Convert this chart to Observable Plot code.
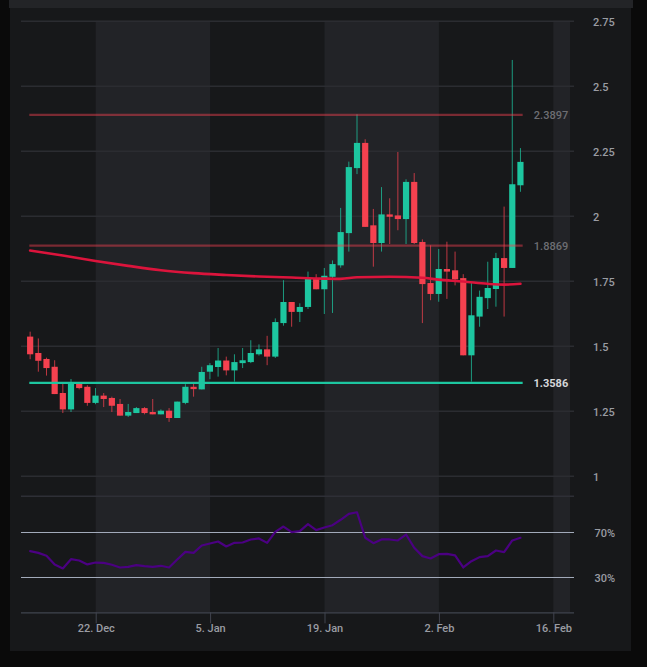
<!DOCTYPE html>
<html><head><meta charset="utf-8">
<script src="https://cdn.jsdelivr.net/npm/d3@7"></script>
<script src="https://cdn.jsdelivr.net/npm/@observablehq/plot@0.6"></script>
<style>
html,body{margin:0;padding:0;background:#0a0a0a;width:647px;height:667px;overflow:hidden}
#strip{position:absolute;left:9px;top:0;width:624px;height:8px;background:#232427}
#panel{position:absolute;left:9.5px;top:8px;width:621.5px;height:643px;background:#17181a}
#price,#rsi{position:absolute;left:0}
#price{top:0}#rsi{top:486px}
svg{display:block}
</style></head><body>
<div id="strip"></div><div id="panel"></div>
<div id="price"></div><div id="rsi"></div>
<script>
const open=[1.535,1.472,1.449,1.419,1.318,1.255,1.353,1.342,1.280,1.308,1.299,1.276,1.231,1.241,1.260,1.245,1.236,1.250,1.222,1.280,1.342,1.332,1.400,1.418,1.443,1.405,1.433,1.437,1.467,1.486,1.458,1.587,1.668,1.630,1.649,1.757,1.717,1.765,1.809,1.933,2.183,2.280,1.963,1.895,2.005,2.001,1.987,2.130,1.899,1.741,1.699,1.795,1.790,1.760,1.463,1.612,1.683,1.718,1.837,1.799,2.117];
const high=[1.554,1.528,1.454,1.444,1.355,1.372,1.355,1.348,1.337,1.318,1.304,1.295,1.276,1.264,1.264,1.295,1.255,1.260,1.285,1.352,1.355,1.419,1.433,1.491,1.458,1.467,1.491,1.521,1.505,1.538,1.605,1.752,1.668,1.663,1.785,1.775,1.799,1.828,2.030,2.208,2.390,2.294,2.026,2.110,2.067,2.245,2.140,2.164,1.909,1.886,1.872,1.900,1.862,1.775,1.741,1.712,1.823,1.857,2.035,2.599,2.260];
const low=[1.448,1.400,1.385,1.314,1.241,1.245,1.332,1.269,1.275,1.264,1.245,1.231,1.226,1.241,1.236,1.236,1.236,1.207,1.222,1.275,1.304,1.332,1.371,1.381,1.386,1.362,1.414,1.433,1.462,1.425,1.453,1.577,1.573,1.591,1.641,1.717,1.622,1.626,1.800,1.862,2.160,1.957,1.804,1.862,1.891,1.944,1.891,1.891,1.587,1.675,1.669,1.680,1.732,1.463,1.362,1.573,1.641,1.650,1.612,1.799,2.092];
const close=[1.467,1.442,1.414,1.314,1.255,1.360,1.337,1.280,1.308,1.295,1.269,1.231,1.245,1.260,1.241,1.236,1.250,1.222,1.285,1.342,1.333,1.399,1.425,1.443,1.405,1.437,1.444,1.472,1.486,1.458,1.591,1.668,1.630,1.649,1.757,1.717,1.769,1.814,1.937,2.187,2.280,1.957,1.895,2.005,1.996,1.987,2.130,1.895,1.737,1.699,1.795,1.785,1.755,1.463,1.617,1.688,1.722,1.837,1.799,2.121,2.207];
const rsiValues=[53.4,51.9,49.3,41.6,38,46.3,45.1,41.6,43.3,43,41.3,38.9,39.5,41,40.1,39.5,40.4,38.9,46,52.8,51.9,58.4,60.2,62,57.6,60.8,61.1,63.8,64.7,60.8,70.6,75.3,70.3,71.2,77.4,72.1,74.4,76.5,81.3,86.6,88,65.3,60.5,63.8,63.8,62.9,68.2,56.4,49,46.9,50.7,51,49.6,38.9,44.5,48.1,49,54,52.5,62.9,65.3];
const maIndex=[0,4,8,12,16,20,24,28,32,36,38,40,44,48,50,53,56,58,60];
const maValues=[1.868,1.849,1.828,1.809,1.792,1.781,1.774,1.768,1.764,1.760,1.759,1.765,1.767,1.763,1.756,1.749,1.740,1.737,1.740];
const resistanceLevels=[2.3897,1.8869];
const supportLevels=[1.3586];
const priceTicks=[2.75,2.5,2.25,2,1.75,1.5,1.25,1];
const rsiLines=[70,30];
const rsiFrame=[102.3,-1.4];
const dateTicks=["2014-12-22","2015-01-05","2015-01-19","2015-02-02","2015-02-16"].map(d=>new Date(d));
const bands=[["2014-12-22T00:00Z","2015-01-05T00:00Z"],["2015-01-19T00:00Z","2015-02-02T00:00Z"],["2015-02-16T00:00Z","2015-02-18T01:00Z"]].map(([a,b])=>({a:new Date(a),b:new Date(b)}));

const dates=d3.utcDay.range(new Date("2014-12-14"),new Date("2015-02-13")).map(d=>new Date(+d-2*3600e3));
const candles=dates.map((date,i)=>({date,open:open[i],high:high[i],low:low[i],close:close[i],up:close[i]>=open[i]}));
const ma=maIndex.map((i,k)=>({date:dates[i],v:maValues[k]}));
const rsi=dates.map((date,i)=>({date,v:rsiValues[i]}));
const xDomain=[new Date("2014-12-12T20:36Z"),new Date("2015-02-18T12:45Z")];
const levelStart=new Date("2014-12-13T21:00Z"),levelEnd=new Date("2015-02-12T06:00Z");
const GREEN="#1dc6a0",RED="#f4414f",GRID="#2b2c31",LABEL="#9a9ca3",BAND="#222327";
const base={width:647,marginLeft:21,marginRight:73,style:{background:"transparent",fontFamily:"Roboto",fontSize:"11px",overflow:"visible"}};
const candleColor=d=>d.up?GREEN:RED;

document.getElementById("price").append(Plot.plot({...base,height:486,marginTop:20.7,marginBottom:0,
  x:{type:"utc",domain:xDomain,axis:null},y:{domain:[0.9604,2.75]},
  marks:[
    Plot.rectX(bands,{x1:"a",x2:"b",fill:BAND}),
    Plot.ruleY(priceTicks,{stroke:GRID,strokeWidth:1.5}),
    Plot.ruleX(candles,{x:"date",y1:"low",y2:"high",stroke:candleColor,strokeWidth:1,strokeOpacity:.75}),
    Plot.ruleX(candles,{x:"date",y1:"open",y2:"close",stroke:candleColor,strokeWidth:6.2}),
    Plot.ruleY(resistanceLevels,{x1:levelStart,x2:levelEnd,stroke:RED,strokeOpacity:.45,strokeWidth:2.2}),
    Plot.ruleY(supportLevels,{x1:levelStart,x2:levelEnd,stroke:GREEN,strokeWidth:2.2}),
    Plot.line(ma,{x:"date",y:"v",stroke:"#dc143c",strokeWidth:2.6,curve:"monotone-x"}),
    Plot.axisY({anchor:"right",ticks:priceTicks,tickSize:0,tickPadding:18.5,label:null,fill:LABEL,dy:1.5,tickFormat:d=>String(d),fontWeight:500}),
    Plot.text(resistanceLevels,{y:d=>d,frameAnchor:"right",dx:-6.3,dy:1,textAnchor:"end",text:d=>d.toFixed(4),fill:"#6d6e73",fontSize:11,fontWeight:500}),
    Plot.text(supportLevels,{y:d=>d,frameAnchor:"right",dx:-6.3,dy:1,textAnchor:"end",text:d=>d.toFixed(4),fill:"#d6d7da",fontSize:11,fontWeight:700})
  ]}));

document.getElementById("rsi").append(Plot.plot({...base,height:181,marginTop:0,marginBottom:54.7,
  x:{type:"utc",domain:xDomain},y:{domain:[-1.4,110.9]},
  marks:[
    Plot.rectX(bands,{x1:"a",x2:"b",fill:BAND}),
    Plot.ruleY([rsiFrame[0]],{stroke:"#2e2f36",strokeWidth:1.5}),
    Plot.ruleY([rsiFrame[1]],{stroke:"#40444f",strokeWidth:1.2}),
    Plot.ruleY(rsiLines,{stroke:"#a4adbd",strokeWidth:1}),
    Plot.line(rsi,{x:"date",y:"v",stroke:"#4b0082",strokeWidth:2.2}),
    Plot.axisY({anchor:"right",ticks:rsiLines,tickSize:0,tickPadding:20,label:null,fill:LABEL,dy:1,tickFormat:d=>d+"%",fontWeight:500}),
    Plot.axisX({ticks:dateTicks,tickSize:11,tickPadding:0,label:null,stroke:"#40444f",fill:LABEL,fontWeight:500,tickFormat:d3.utcFormat("%-d. %b")})
  ]}));
</script></body></html>
